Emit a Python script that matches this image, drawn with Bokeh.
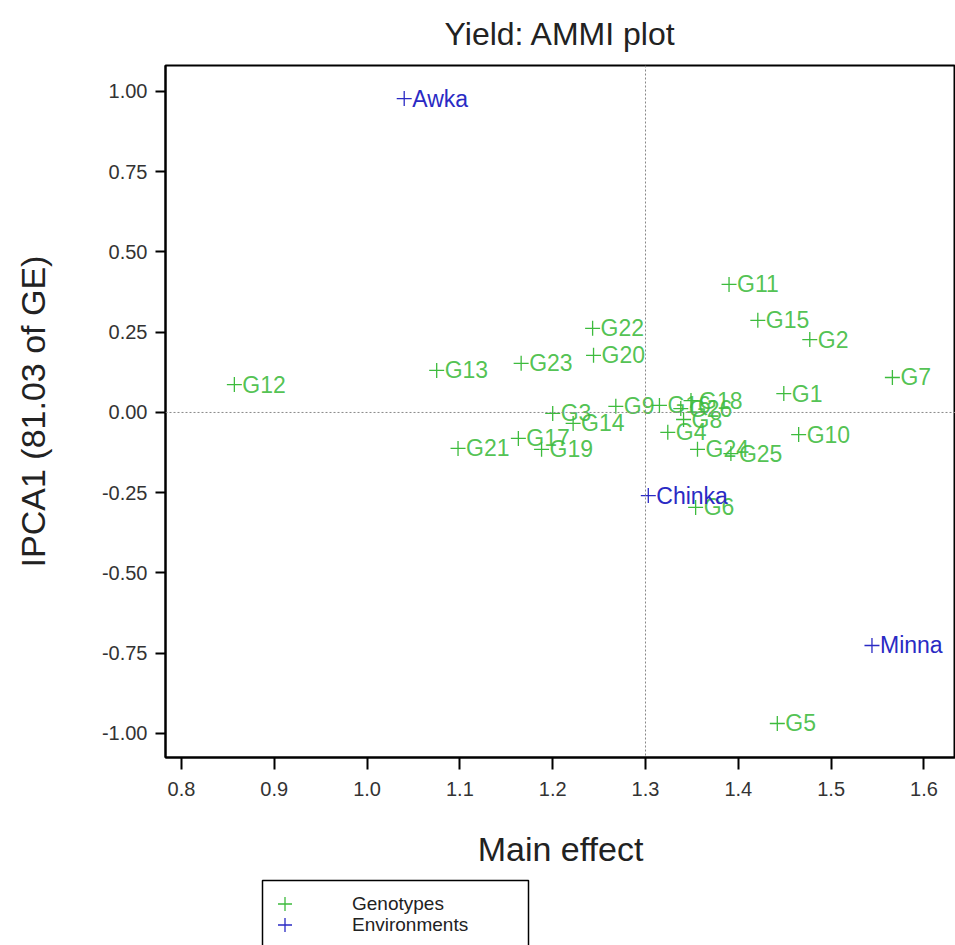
from bokeh.plotting import figure
from bokeh.layouts import column
from bokeh.models import (ColumnDataSource, Span, FixedTicker, NumeralTickFormatter,
                          Legend, LegendItem, Range1d, BoxAnnotation)
from bokeh.core.properties import value
from bokeh.embed import file_html
from bokeh.resources import INLINE

# ---- data ----
gen_names = ["G1", "G2", "G3", "G4", "G5", "G6", "G7", "G8", "G9", "G10", "G11", "G12", "G13",
             "G14", "G15", "G16", "G17", "G18", "G19", "G20", "G21", "G22", "G23", "G24", "G25", "G26"]
gen_main = [1.449, 1.477, 1.200, 1.324, 1.442, 1.354, 1.566, 1.341, 1.268, 1.465, 1.390, 0.857, 1.075,
            1.222, 1.421, 1.315, 1.163, 1.349, 1.188, 1.244, 1.098, 1.243, 1.166, 1.356, 1.392, 1.338]
gen_ipca = [0.059, 0.227, -0.003, -0.062, -0.969, -0.296, 0.109, -0.022, 0.019, -0.069, 0.399, 0.087, 0.131,
            -0.034, 0.287, 0.022, -0.081, 0.037, -0.115, 0.178, -0.112, 0.262, 0.153, -0.115, -0.128, 0.012]

env_names = ["Awka", "Chinka", "Minna"]
env_main = [1.040, 1.303, 1.544]
env_ipca = [0.978, -0.259, -0.726]

legend_labels = ["Genotypes", "Environments"]
x_ticks = [0.8, 0.9, 1.0, 1.1, 1.2, 1.3, 1.4, 1.5, 1.6]
y_ticks = [-1.0, -0.75, -0.5, -0.25, 0.0, 0.25, 0.5, 0.75, 1.0]
grand_mean = 1.3

GREEN = "#3dbb3d"
BLUE = "#2a2ac4"
FONT = "Liberation Sans"

p = figure(width=955, height=870, output_backend="svg", toolbar_location=None,
           x_range=Range1d(0.7828, 1.634), y_range=Range1d(-1.075, 1.081),
           min_border_left=165, min_border_right=0, min_border_top=65, min_border_bottom=113,
           title="Yield: AMMI plot")

p.title.align = "center"
p.title.text_font = FONT
p.title.text_font_size = "32px"
p.title.text_font_style = "normal"
p.title.text_color = "#222222"
p.title.standoff = 27

p.grid.visible = False
p.outline_line_color = "black"
p.outline_line_width = 2
p.outline_line_alpha = 1

for ax, ticks, fmt in ((p.xaxis[0], x_ticks, "0.0"), (p.yaxis[0], y_ticks, "0.00")):
    ax.ticker = FixedTicker(ticks=ticks)
    ax.formatter = NumeralTickFormatter(format=fmt)
    ax.minor_tick_line_color = None
    ax.major_tick_in = 0
    ax.axis_line_color = "black"
    ax.axis_line_width = 2
    ax.major_tick_line_color = "black"
    ax.major_tick_line_width = 2
    ax.major_label_text_font = FONT
    ax.major_label_text_font_size = "20px"
    ax.major_label_text_color = "#333333"
    ax.axis_label_text_font = FONT
    ax.axis_label_text_font_size = "34px"
    ax.axis_label_text_font_style = "normal"
    ax.axis_label_text_color = "#222222"

p.xaxis.axis_label = "Main effect"
p.xaxis.major_tick_out = 12
p.xaxis.major_label_standoff = 12
p.xaxis.axis_label_standoff = 31
p.yaxis.axis_label = "IPCA1 (81.03 of GE)"
p.yaxis.major_tick_out = 10
p.yaxis.major_label_standoff = 8
p.yaxis.axis_label_standoff = 47

# reference lines
p.add_layout(Span(location=grand_mean, dimension="height", line_color="#888888",
                  line_dash="2 2", line_width=1))
p.add_layout(Span(location=0, dimension="width", line_color="#888888",
                  line_dash="2 2", line_width=1))

gsrc = ColumnDataSource(dict(x=gen_main, y=gen_ipca, name=gen_names))
esrc = ColumnDataSource(dict(x=env_main, y=env_ipca, name=env_names))

p.scatter("x", "y", source=gsrc, marker="cross", size=15, line_color=GREEN, line_width=1.3)
p.text("x", "y", text="name", source=gsrc, x_offset=8, text_baseline="middle", text_align="left",
       text_font=value(FONT), text_font_size="23px", text_color=GREEN, text_alpha=0.9)

p.scatter("x", "y", source=esrc, marker="cross", size=15, line_color=BLUE, line_width=1.3)
p.text("x", "y", text="name", source=esrc, x_offset=8, text_baseline="middle", text_align="left",
       text_font=value(FONT), text_font_size="23px", text_color=BLUE)

# ---- legend strip below the plot (frame aligned with the main plot's frame; ranges in pixels) ----
lg = figure(width=955, height=75, output_backend="svg", toolbar_location=None,
            x_axis_type=None, y_axis_type=None, x_range=Range1d(0, 790), y_range=Range1d(0, 75),
            min_border_left=0, min_border_right=0, min_border_top=0, min_border_bottom=0)
lg.grid.visible = False
lg.outline_line_color = None
lg.add_layout(BoxAnnotation(left=97, right=363, top=65, bottom=-10, fill_color="white",
                            fill_alpha=1, line_color="black", line_alpha=1, line_width=1.5))
# key glyphs only: their single point sits outside the strip's range, so only the legends show them
g_r = lg.scatter(x=[-500], y=[-500], marker="cross", size=15, line_color=GREEN, line_width=1.3)
e_r = lg.scatter(x=[-500], y=[-500], marker="cross", size=15, line_color=BLUE, line_width=1.3)


def key(label, renderer, bottom):
    leg = Legend(items=[LegendItem(label=label, renderers=[renderer])], location=(102, bottom))
    leg.border_line_color = None
    leg.background_fill_alpha = 0
    leg.label_text_font = FONT
    leg.label_text_font_size = "19px"
    leg.label_text_color = "#222222"
    leg.glyph_width = 35
    leg.glyph_height = 35
    leg.label_height = 19
    leg.padding = 0
    leg.margin = 0
    leg.label_standoff = 50
    leg.label_text_line_height = 1.0
    return leg


lg.add_layout(key(legend_labels[0], g_r, 24), "center")
lg.add_layout(key(legend_labels[1], e_r, 3), "center")

layout = column(p, lg, spacing=0)
open("out.html", "w").write(file_html(layout, INLINE))
